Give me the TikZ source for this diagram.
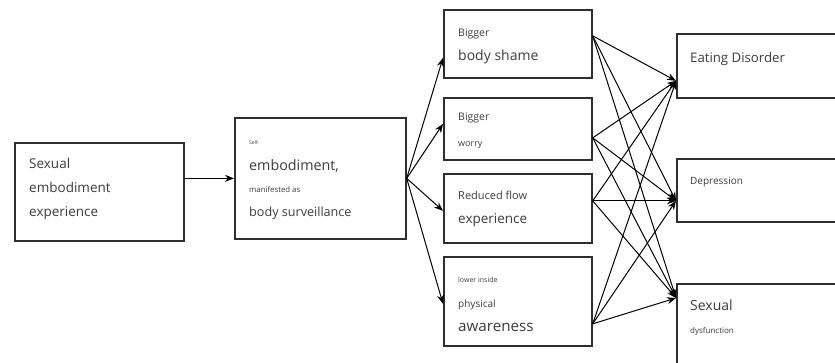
\documentclass[tikz,border=0pt]{standalone}
\usepackage{fontspec}
\setmainfont{Open Sans}
\usetikzlibrary{arrows.meta}
\definecolor{txtc}{HTML}{3C3C3C}
\definecolor{boxc}{HTML}{2E2E2E}
\newcommand{\fsz}[1]{\fontsize{#1}{#1}\selectfont}
\begin{document}
\begin{tikzpicture}[x=1pt,y=1pt,
  box/.style={draw=boxc, line width=1.7pt, fill=white, inner sep=0pt, anchor=north west},
  tx/.style={anchor=base west, inner sep=0pt, text=txtc},
  arr/.style={draw=black, line width=1pt, -{Stealth[length=9pt,width=7pt]}}]
\path[use as bounding box] (0,0) rectangle (835,-363);
\clip (0,0) rectangle (835,-363);
\fill[white] (0,0) rectangle (835,-363);
% boxes
\node[box, minimum width=169pt, minimum height=98pt]  (b1) at (14,-142) {};
\node[box, minimum width=171pt, minimum height=121pt] (b2) at (234,-117) {};
\node[box, minimum width=148pt, minimum height=68pt]  (b3) at (443,-9) {};
\node[box, minimum width=148pt, minimum height=62pt]  (b4) at (443,-97) {};
\node[box, minimum width=148pt, minimum height=69pt]  (b5) at (443,-173) {};
\node[box, minimum width=148pt, minimum height=89pt]  (b6) at (443,-256) {};
\node[box, minimum width=250pt, minimum height=64pt]  (b7) at (676,-33) {};
\node[box, minimum width=250pt, minimum height=63pt]  (b8) at (676,-158) {};
\node[box, minimum width=250pt, minimum height=150pt] (b9) at (676,-283) {};
% texts
\node[tx, font=\fsz{13.5}] (t1a) at (29,-169) {Sexual};
\node[tx, font=\fsz{13.5}] (t1b) at (29,-193) {embodiment};
\node[tx, font=\fsz{13.5}] (t1c) at (29,-217) {experience};
\node[tx, font=\fsz{5}]    (t2a) at (249,-145) {Self-};
\node[tx, font=\fsz{14.3}] (t2b) at (249,-171) {embodiment,};
\node[tx, font=\fsz{7.8}]  (t2c) at (249,-193) {manifested as};
\node[tx, font=\fsz{12.6}] (t2d) at (249,-217) {body surveillance};
\node[tx, font=\fsz{10.5}] (t3a) at (458,-37) {Bigger};
\node[tx, font=\fsz{14}]   (t3b) at (458,-61) {body shame};
\node[tx, font=\fsz{10.5}] (t4a) at (458,-121) {Bigger};
\node[tx, font=\fsz{9}]    (t4b) at (458,-147) {worry};
\node[tx, font=\fsz{11}]   (t5a) at (458,-200) {Reduced flow};
\node[tx, font=\fsz{13.5}] (t5b) at (458,-224) {experience};
\node[tx, font=\fsz{7}]    (t6a) at (458,-283) {lower inside};
\node[tx, font=\fsz{10}]   (t6b) at (458,-307) {physical};
\node[tx, font=\fsz{15.2}] (t6c) at (458,-331) {awareness};
\node[tx, font=\fsz{13.2}] (t7)  at (690,-63) {Eating Disorder};
\node[tx, font=\fsz{10}]   (t8)  at (690,-185) {Depression};
\node[tx, font=\fsz{14}]   (t9a) at (690,-310) {Sexual};
\node[tx, font=\fsz{8}]    (t9b) at (690,-334) {dysfunction};
% connector end points
\coordinate (i3) at ([yshift=-14pt]b3.west);
\coordinate (i4) at ([yshift=5pt]b4.west);
\coordinate (i5) at ([yshift=-2.5pt]b5.west);
\coordinate (i6) at ([yshift=-2.5pt]b6.west);
\coordinate (o3) at ([yshift=8pt]b3.east);
\coordinate (o4) at ([yshift=-9pt]b4.east);
\coordinate (o5) at ([yshift=7.5pt]b5.east);
\coordinate (o6) at ([yshift=-22.5pt]b6.east);
\coordinate (i7) at ([yshift=-15pt]b7.west);
\coordinate (i8) at ([yshift=-10.5pt]b8.west);
\coordinate (i9) at ([yshift=-15pt]b9.north west);
% connectors
\draw[arr] (b1.east |- b2.west) -- (b2.west);
\foreach \t in {3,4,5,6} \draw[arr] (b2.east) -- (i\t);
\foreach \s in {3,4,5,6} \foreach \t in {7,8,9} \draw[arr] (o\s) -- (i\t);
\end{tikzpicture}
\end{document}
